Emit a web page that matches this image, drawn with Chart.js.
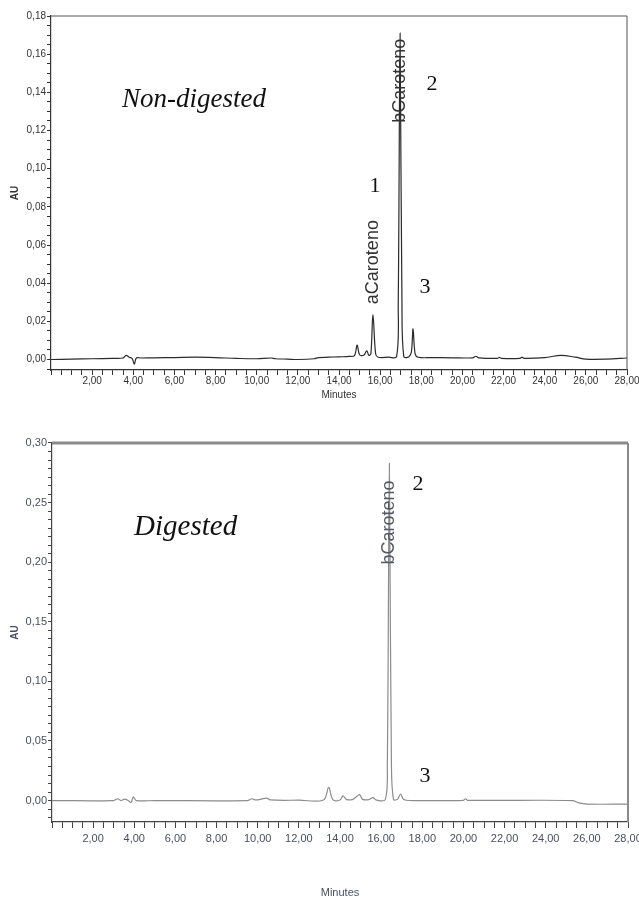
<!DOCTYPE html>
<html>
<head>
<meta charset="utf-8">
<script src="https://cdn.jsdelivr.net/npm/chart.js@4.4.1/dist/chart.umd.min.js"></script>
<style>
  html, body { margin: 0; padding: 0; background: #fff; }
  #wrap { position: relative; width: 639px; height: 904px; }
  .box { position: absolute; left: 0; width: 639px; }
</style>
</head>
<body>
<div id="wrap">
  <div class="box" style="top:0;height:410px"><canvas id="chart0"></canvas></div>
  <div class="box" style="top:410px;height:494px"><canvas id="chart1"></canvas></div>
</div>
<script>
// Cromatograma sin digerir (minutos, AU)
const topTime = [0, 1, 2, 3, 3.5, 3.65, 3.8, 3.95, 4.05, 4.15, 4.4, 5, 6, 7, 8, 9, 10, 10.7, 10.9, 11.5, 12,
  12.8, 13, 13.5, 14, 14.5, 14.75, 14.88, 15.0, 15.2, 15.35, 15.45, 15.55, 15.65, 15.78, 15.9, 16.4, 16.8,
  16.88, 16.97, 17.06, 17.15, 17.4, 17.52, 17.6, 17.7, 17.85, 18.5, 19.5, 20.5, 20.65, 20.8, 21.7, 21.8,
  21.9, 22.8, 22.9, 23.0, 24, 24.8, 25.5, 26, 27, 28];
const topAU = [0.0000, 0.0002, 0.0004, 0.0006, 0.0008, 0.0022, 0.0012, 0.0005, -0.0025, 0.0008, 0.0008,
  0.0009, 0.0010, 0.0012, 0.0010, 0.0006, 0.0004, 0.0008, 0.0004, 0.0002, 0.0000, 0.0004, 0.0010, 0.0012,
  0.0014, 0.0016, 0.0020, 0.0075, 0.0025, 0.0022, 0.0045, 0.0022, 0.0030, 0.0235, 0.0030, 0.0012, 0.0012,
  0.0015, 0.0300, 0.1710, 0.0300, 0.0015, 0.0015, 0.0040, 0.0160, 0.0030, 0.0012, 0.0010, 0.0009, 0.0009,
  0.0017, 0.0009, 0.0006, 0.0011, 0.0006, 0.0006, 0.0012, 0.0006, 0.0010, 0.0022, 0.0012, 0.0002, 0.0002,
  0.0008];

// Cromatograma digerido (minutos, AU)
const botTime = [0, 3.0, 3.2, 3.35, 3.55, 3.7, 3.85, 3.95, 4.1, 5, 9.5, 9.7, 9.9, 10.45, 10.6, 12, 13.2,
  13.45, 13.65, 14.0, 14.15, 14.3, 14.6, 14.75, 14.95, 15.1, 15.4, 15.6, 15.75, 16.2, 16.3, 16.4, 16.5,
  16.6, 16.8, 16.95, 17.1, 17.5, 18, 20, 20.1, 20.2, 25.3, 25.6, 26, 28];
const botAU = [0.0000, 0.0000, 0.0015, 0.0000, 0.0012, 0.0000, -0.0015, 0.0030, 0.0000, 0.0000, 0.0000,
  0.0015, 0.0005, 0.0020, 0.0005, 0.0003, 0.0005, 0.0110, 0.0008, 0.0005, 0.0040, 0.0010, 0.0008, 0.0025,
  0.0050, 0.0010, 0.0008, 0.0025, 0.0005, 0.0008, 0.0300, 0.2830, 0.0300, 0.0010, 0.0012, 0.0055, 0.0008,
  0.0000, 0.0000, 0.0002, 0.0015, 0.0002, 0.0000, -0.0020, -0.0030, -0.0030];

// Etiquetas de los ejes
const xLabelTicks = [2, 4, 6, 8, 10, 12, 14, 16, 18, 20, 22, 24, 26, 28];
const topYLabelTicks = [0, 0.02, 0.04, 0.06, 0.08, 0.10, 0.12, 0.14, 0.16, 0.18];
const botYLabelTicks = [0, 0.05, 0.10, 0.15, 0.20, 0.25, 0.30];

// Picos nombrados y textos
const topPeaks = [{ name: 'aCaroteno', x: 15.65, y: 0.029 }, { name: 'bCaroteno', x: 16.97, y: 0.124 }];
const botPeaks = [{ name: 'bCaroteno', x: 16.4, y: 0.198 }];
const topNotes = [
  { text: 'Non-digested', x: 3.45, y: 0.136, italic: true, size: 27 },
  { text: '1', x: 15.75, y: 0.091 },
  { text: '2', x: 18.52, y: 0.144 },
  { text: '3', x: 18.18, y: 0.038 }
];
const botNotes = [
  { text: 'Digested', x: 3.99, y: 0.229, italic: true, size: 29 },
  { text: '2', x: 17.79, y: 0.265 },
  { text: '3', x: 18.13, y: 0.020 }
];

const comma = v => v.toFixed(2).replace('.', ',');
const isIn = (list, v) => list.some(t => Math.abs(t - v) < 1e-6);

// borde superior/derecho, picos y textos
const extras = {
  id: 'extras',
  afterDatasetsDraw(chart, args, opts) {
    const { ctx, chartArea: a, scales: { x, y } } = chart;
    ctx.save();
    ctx.strokeStyle = opts.boxColor;
    ctx.lineWidth = opts.topWidth;
    ctx.beginPath();
    ctx.moveTo(a.left, a.top);
    ctx.lineTo(a.right, a.top);
    ctx.stroke();
    ctx.lineWidth = opts.rightWidth;
    ctx.beginPath();
    ctx.moveTo(a.right, a.top);
    ctx.lineTo(a.right, a.bottom);
    ctx.stroke();

    opts.peaks.forEach(p => {
      ctx.save();
      ctx.translate(x.getPixelForValue(p.x), y.getPixelForValue(p.y));
      ctx.rotate(-Math.PI / 2);
      ctx.font = opts.peakFont;
      ctx.fillStyle = opts.peakColor;
      ctx.textAlign = 'left';
      ctx.textBaseline = 'middle';
      ctx.fillText(p.name, 0, 0);
      ctx.restore();
    });

    opts.notes.forEach(n => {
      ctx.font = (n.italic ? 'italic ' + n.size + 'px' : '22px') + ' "Liberation Serif", "Times New Roman", serif';
      ctx.fillStyle = '#111';
      ctx.textAlign = n.italic ? 'left' : 'center';
      ctx.textBaseline = 'middle';
      ctx.fillText(n.text, x.getPixelForValue(n.x), y.getPixelForValue(n.y));
    });
    ctx.restore();
  }
};

function makeChart(id, cfg) {
  const pts = cfg.time.map((t, i) => ({ x: t, y: cfg.au[i] }));
  const tickFont = { family: '"Liberation Sans Narrow", "Liberation Sans", Arial', size: cfg.fontSize };
  return new Chart(document.getElementById(id), {
    type: 'line',
    data: {
      datasets: [{
        data: pts,
        borderColor: cfg.lineColor,
        borderWidth: 1.2,
        pointRadius: 0,
        tension: 0.35,
        fill: false
      }]
    },
    options: {
      responsive: true,
      maintainAspectRatio: false,
      animation: false,
      layout: { padding: cfg.padding },
      plugins: {
        legend: { display: false },
        tooltip: { enabled: false },
        extras: {
          boxColor: cfg.boxColor, topWidth: cfg.topWidth, rightWidth: cfg.rightWidth,
          peaks: cfg.peaks, notes: cfg.notes, peakColor: cfg.peakColor, peakFont: cfg.peakFont
        }
      },
      scales: {
        x: {
          type: 'linear',
          min: 0,
          max: 28,
          afterBuildTicks: s => {
            const t = [];
            for (let i = 0; i <= 56; i++) t.push({ value: i * 0.5 });
            s.ticks = t;
          },
          afterFit: s => { s.height = cfg.xHeight; s.paddingRight = 0; },
          border: { color: cfg.axisColor, width: 1.2 },
          grid: { drawOnChartArea: false, tickLength: cfg.tickLen, color: cfg.axisColor },
          ticks: {
            autoSkip: false,
            maxRotation: 0,
            padding: cfg.xTickPad,
            color: cfg.textColor,
            font: tickFont,
            callback: v => isIn(xLabelTicks, v) ? comma(v) : ''
          },
          title: {
            display: true,
            text: 'Minutes',
            color: cfg.textColor,
            font: tickFont,
            padding: { top: 0, bottom: cfg.titlePad }
          }
        },
        y: {
          min: cfg.yMin,
          max: cfg.yMax,
          afterBuildTicks: s => {
            const t = [];
            for (let i = cfg.minorFrom; i <= cfg.minorTo; i++) t.push({ value: i * cfg.minorStep });
            s.ticks = t;
          },
          afterFit: s => { s.width = cfg.yWidth; },
          border: { color: cfg.axisColor, width: 1.2 },
          grid: { drawOnChartArea: false, tickLength: 4, color: cfg.axisColor },
          ticks: {
            autoSkip: false,
            padding: 1,
            color: cfg.textColor,
            font: tickFont,
            callback: v => isIn(cfg.yLabels, v) ? comma(v) : ''
          },
          title: {
            display: true,
            text: 'AU',
            color: cfg.textColor,
            font: { family: 'Liberation Sans, Arial', size: 10, weight: 'bold' },
            padding: { top: 9, bottom: 0 }
          }
        }
      }
    },
    plugins: [extras]
  });
}

makeChart('chart0', {
  time: topTime, au: topAU, lineColor: '#2b2b2b',
  padding: { top: 16, right: 12, left: 0, bottom: 0 },
  xHeight: 40, yWidth: 51, tickLen: 5, xTickPad: 0, titlePad: 9, fontSize: 10,
  yMin: -0.0055, yMax: 0.18, minorStep: 0.005, minorFrom: -1, minorTo: 36,
  yLabels: topYLabelTicks, axisColor: '#333', textColor: '#333',
  boxColor: '#555', topWidth: 1, rightWidth: 1,
  peaks: topPeaks, notes: topNotes, peakColor: '#333',
  peakFont: '18px "Liberation Sans", Arial, sans-serif'
});

makeChart('chart1', {
  time: botTime, au: botAU, lineColor: '#8c8c8c',
  padding: { top: 33, right: 11, left: 0, bottom: 0 },
  xHeight: 82, yWidth: 52, tickLen: 6, xTickPad: 4, titlePad: 4, fontSize: 11,
  yMin: -0.018, yMax: 0.30, minorStep: 0.05 / 7, minorFrom: -2, minorTo: 42,
  yLabels: botYLabelTicks, axisColor: '#444', textColor: '#4a4f60',
  boxColor: '#8a8a8a', topWidth: 3, rightWidth: 2,
  peaks: botPeaks, notes: botNotes, peakColor: '#555a66',
  peakFont: '18px "Liberation Sans", Arial, sans-serif'
});
</script>
</body>
</html>
